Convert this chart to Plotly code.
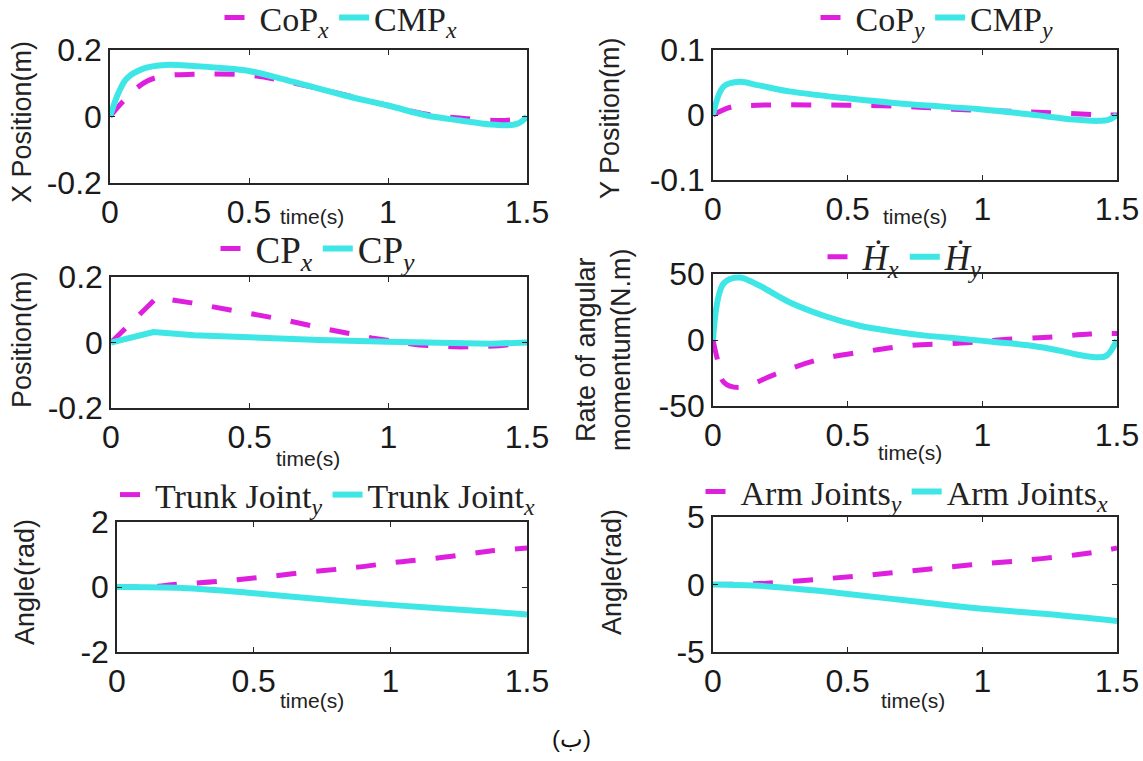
import plotly.graph_objects as go

W, H = 1143, 761
MAG = '#de1fde'
CYN = '#3ee6e6'

# ---- data ----
t_copx = [0, 0.05, 0.12, 0.18, 0.3, 0.5, 0.64, 0.8, 1.0, 1.15, 1.29, 1.4, 1.46, 1.5]
copx = [0, 0.048, 0.1, 0.12, 0.127, 0.124, 0.104, 0.074, 0.033, 0.005, -0.007, -0.012, -0.008, 0]
t_cmpx = [0, 0.03, 0.06, 0.12, 0.2, 0.3, 0.4, 0.5, 0.66, 0.84, 1.0, 1.14, 1.26, 1.37, 1.43, 1.47, 1.5]
cmpx = [0, 0.07, 0.114, 0.144, 0.155, 0.152, 0.146, 0.137, 0.104, 0.064, 0.033, 0.003, -0.012, -0.024, -0.026, -0.02, 0]

t_copy = [0, 0.065, 0.165, 0.5, 0.72, 0.89, 1.23, 1.45, 1.5]
copy_ = [0, 0.012, 0.015, 0.015, 0.013, 0.009, 0.004, 0.0, 0]
t_cmpy = [0, 0.04, 0.1, 0.165, 0.29, 0.49, 0.74, 0.99, 1.165, 1.34, 1.43, 1.47, 1.5]
cmpy = [0, 0.044, 0.051, 0.046, 0.036, 0.026, 0.016, 0.009, 0.0015, -0.007, -0.009, -0.007, 0]

t_cpx = [0, 0.165, 0.29, 0.46, 0.62, 0.77, 0.94, 1.11, 1.26, 1.4, 1.5]
cpx = [0, 0.137, 0.121, 0.096, 0.07, 0.042, 0.014, -0.008, -0.014, -0.01, 0]
t_cpy = [0, 0.153, 0.3, 0.5, 0.75, 1.0, 1.37, 1.5]
cpy = [0, 0.032, 0.022, 0.014, 0.008, 0.002, -0.004, 0]

t_hx = [0, 0.015, 0.04, 0.1, 0.23, 0.39, 0.57, 0.74, 0.92, 1.08, 1.26, 1.4, 1.5]
hx = [0, -13.6, -32, -36, -26, -15, -8.6, -4, -2.3, 0.3, 2.3, 4.5, 5]
t_hy = [0, 0.04, 0.097, 0.166, 0.29, 0.417, 0.54, 0.67, 0.79, 0.92, 1.045, 1.17, 1.3, 1.35, 1.42, 1.46, 1.5]
hy = [0, 43, 47.4, 41.8, 28, 18, 11, 6.5, 3.3, 1, -1.5, -4, -8.6, -11, -13, -12, 0]

t_trunky = [0, 0.15, 0.2, 0.37, 0.53, 0.7, 0.87, 1.03, 1.2, 1.36, 1.5]
trunky = [0, 0.02, 0.07, 0.17, 0.3, 0.46, 0.6, 0.77, 0.92, 1.1, 1.2]
t_trunkx = [0, 0.24, 0.5, 0.79, 1.0, 1.38, 1.5]
trunkx = [0, -0.03, -0.19, -0.41, -0.55, -0.77, -0.85]

t_army = [0, 0.15, 0.2, 0.4, 0.59, 0.78, 0.96, 1.16, 1.35, 1.45, 1.5]
army = [0, 0.05, 0.1, 0.4, 0.72, 1.1, 1.46, 1.8, 2.2, 2.5, 2.7]
t_armx = [0, 0.15, 0.3, 0.5, 0.77, 1.0, 1.25, 1.5]
armx = [0, -0.07, -0.3, -0.7, -1.3, -1.8, -2.2, -2.7]

x_ticks = [0, 0.5, 1, 1.5]
x_ticktext = ['0', '0.5', '1', '1.5']

panels = [
    dict(mag=(t_copx, copx), cyn=(t_cmpx, cmpx), names=('CoP<sub><i>x</i></sub>', 'CMP<sub><i>x</i></sub>'),
         yr=[-0.2, 0.2], yt=[-0.2, 0, 0.2], ytt=['-0.2', '0', '0.2'], ytitle=['X Position(m)'],
         box=(110, 527, 50, 183), leg=(341, 18), lfs=34, ytpos=(22, 122), tpos=(312, 216), shape='spline'),
    dict(mag=(t_copy, copy_), cyn=(t_cmpy, cmpy), names=('CoP<sub><i>y</i></sub>', 'CMP<sub><i>y</i></sub>'),
         yr=[-0.1, 0.1], yt=[-0.1, 0, 0.1], ytt=['-0.1', '0', '0.1'], ytitle=['Y Position(m)'],
         box=(713, 1117, 50, 180), leg=(937, 18), lfs=34, ytpos=(610, 118), tpos=(915, 216), shape='spline'),
    dict(mag=(t_cpx, cpx), cyn=(t_cpy, cpy), names=('CP<sub><i>x</i></sub>', 'CP<sub><i>y</i></sub>'),
         yr=[-0.2, 0.2], yt=[-0.2, 0, 0.2], ytt=['-0.2', '0', '0.2'], ytitle=['Position(m)'],
         box=(111, 527, 277, 408), leg=(318, 249), lfs=37, ytpos=(22, 340), tpos=(308, 458), shape='linear'),
    dict(mag=(t_hx, hx), cyn=(t_hy, hy), names=('<i>Ḣ</i><sub><i>x</i></sub>', '<i>Ḣ</i><sub><i>y</i></sub>'),
         yr=[-50, 50], yt=[-50, 0, 50], ytt=['-50', '0', '50'], ytitle=['Rate of angular', 'momentum(N.m)'],
         box=(713, 1117, 274, 406), leg=(905, 257), lfs=35, ytpos=(604, 350), tpos=(910, 452), shape='spline'),
    dict(mag=(t_trunky, trunky), cyn=(t_trunkx, trunkx), names=('Trunk Joint<sub><i>y</i></sub>', 'Trunk Joint<sub><i>x</i></sub>'),
         yr=[-2, 2], yt=[-2, 0, 2], ytt=['-2', '0', '2'], ytitle=['Angle(rad)'],
         box=(117, 527, 522, 652), leg=(328, 495), lfs=34, ytpos=(25, 582), tpos=(312, 700), shape='spline'),
    dict(mag=(t_army, army), cyn=(t_armx, armx), names=('Arm Joints<sub><i>y</i></sub>', 'Arm Joints<sub><i>x</i></sub>'),
         yr=[-5, 5], yt=[-5, 0, 5], ytt=['-5', '0', '5'], ytitle=['Angle(rad)'],
         box=(713, 1117, 517, 652), leg=(907, 492), lfs=34, ytpos=(612, 572), tpos=(913, 700), shape='spline'),
]

fig = go.Figure()
annotations = []
layout = dict(width=W, height=H, margin=dict(l=0, r=0, t=0, b=0, autoexpand=False),
              paper_bgcolor='white', plot_bgcolor='white', showlegend=True)

AX = dict(showline=True, linecolor='#262626', linewidth=1.5, mirror='allticks',
          ticks='inside', ticklen=5, tickcolor='#262626', showgrid=False, zeroline=False,
          automargin=False,
          tickfont=dict(family='Liberation Sans, Arial, sans-serif', size=32, color='#1a1a1a'))

for i, p in enumerate(panels, start=1):
    sfx = '' if i == 1 else str(i)
    leg = 'legend' if i == 1 else f'legend{i}'
    x0, x1, y0, y1 = p['box']
    fig.add_trace(go.Scatter(x=p['mag'][0], y=p['mag'][1], mode='lines', name=p['names'][0],
                             line=dict(color=MAG, width=5, dash='20px,20px', shape=p['shape']),
                             xaxis='x' + sfx, yaxis='y' + sfx, legend=leg))
    fig.add_trace(go.Scatter(x=p['cyn'][0], y=p['cyn'][1], mode='lines', name=p['names'][1],
                             line=dict(color=CYN, width=6, shape=p['shape']),
                             xaxis='x' + sfx, yaxis='y' + sfx, legend=leg))
    layout['xaxis' + sfx] = dict(AX, domain=[x0 / W, x1 / W], range=[0, 1.5], tickvals=x_ticks,
                                 ticktext=x_ticktext, anchor='y' + sfx)
    layout['yaxis' + sfx] = dict(AX, domain=[1 - y1 / H, 1 - y0 / H], range=p['yr'], tickvals=p['yt'],
                                 ticktext=p['ytt'], anchor='x' + sfx)
    lx, ly = p['leg']
    layout[leg] = dict(orientation='h', x=lx / W, y=1 - ly / H, xanchor='center', yanchor='middle',
                       font=dict(family='Liberation Serif, Times New Roman, serif', size=p['lfs'], color='#222'),
                       bgcolor='rgba(0,0,0,0)', itemwidth=30, tracegroupgap=0)
    tx, ty = p['ytpos']
    annotations.append(dict(text='<br>'.join(p['ytitle']), x=tx / W, y=1 - ty / H, xref='paper', yref='paper',
                            textangle=-90, showarrow=False, xanchor='center', yanchor='middle',
                            font=dict(family='Liberation Sans, Arial, sans-serif', size=27, color='#222')))
    px, py = p['tpos']
    annotations.append(dict(text='time(s)', x=px / W, y=1 - py / H, xref='paper', yref='paper',
                            showarrow=False, xanchor='center', yanchor='middle',
                            font=dict(family='Liberation Sans, Arial, sans-serif', size=21, color='#222')))

annotations.append(dict(text='(ب)', x=571 / W, y=1 - 738 / H, xref='paper', yref='paper', showarrow=False,
                        xanchor='center', yanchor='middle',
                        font=dict(family='Liberation Sans, Arial, sans-serif', size=24, color='#111')))
layout['annotations'] = annotations
fig.update_layout(**layout)
fig.write_html('out.html', config={'displayModeBar': False},
               post_script="document.body.style.margin='0';document.body.style.padding='0';")
